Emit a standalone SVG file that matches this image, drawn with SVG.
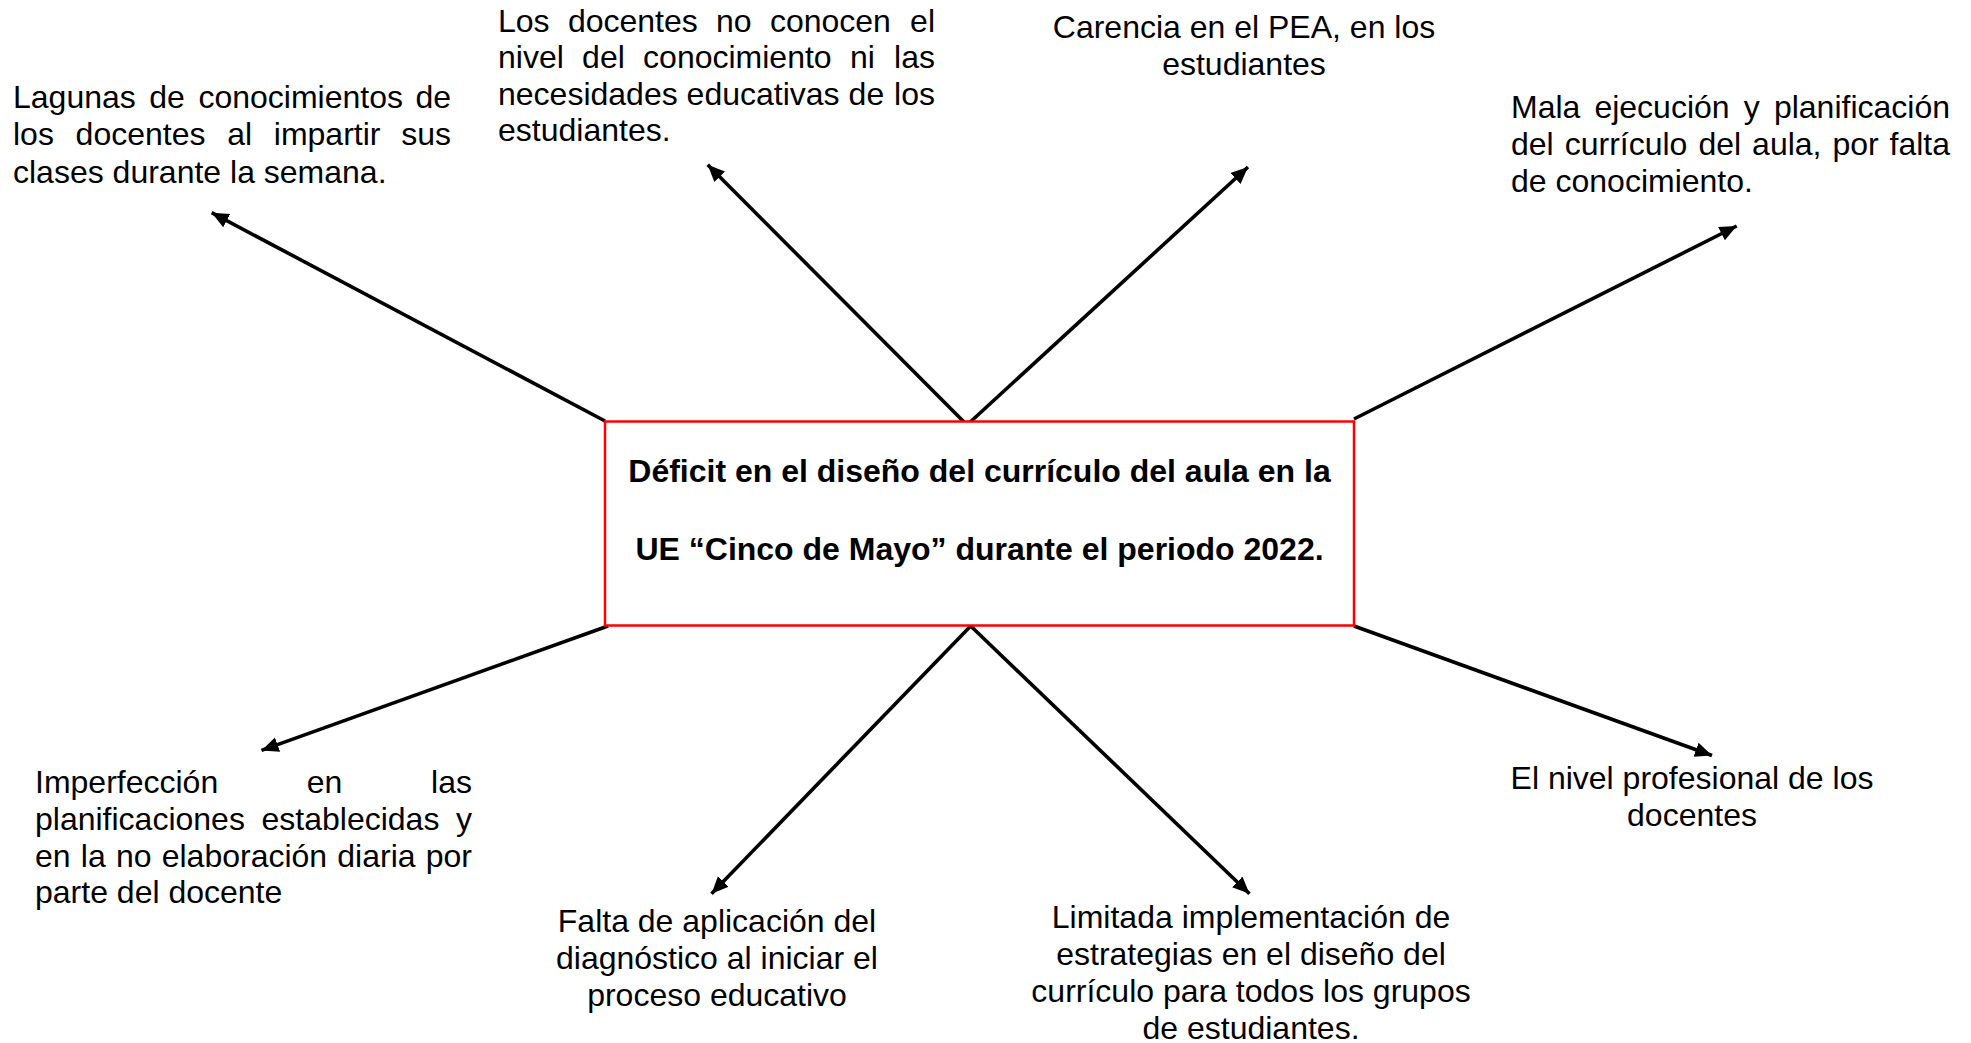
<svg xmlns="http://www.w3.org/2000/svg" width="1971" height="1043" viewBox="0 0 1971 1043">
<style>
  text { font-family: "Liberation Sans", Arial, sans-serif; font-size: 32px; fill: #000; }
  .c { text-anchor: middle; }
  .e { text-anchor: end; }
  .b { font-weight: bold; }
  .conn line { stroke: #000; stroke-width: 3.6; fill: none; marker-end: url(#arr); }
  .box { fill: #fff; stroke: #ff0000; stroke-width: 2.5; }
</style>
<defs>
  <marker id="arr" markerUnits="userSpaceOnUse" markerWidth="18" markerHeight="16" refX="17" refY="7.5" orient="auto">
    <path d="M0,0 L17,7.5 L0,15 z" fill="#000"/>
  </marker>
</defs>
<rect width="1971" height="1043" fill="#fff"/>

<g id="connectors" class="conn">
  <line x1="605" y1="421" x2="211.7" y2="212.7"/>
  <line x1="967" y1="425" x2="707.7" y2="164.7"/>
  <line x1="967" y1="425" x2="1248" y2="167"/>
  <line x1="1354" y1="419" x2="1736.7" y2="226"/>
  <line x1="608" y1="626" x2="261.5" y2="750.4"/>
  <line x1="970.7" y1="626" x2="711.5" y2="893.7"/>
  <line x1="970.7" y1="626" x2="1249.5" y2="893.7"/>
  <line x1="1354" y1="626" x2="1712" y2="755.5"/>
</g>

<g id="center">
  <rect class="box" x="605" y="421.5" width="749" height="204"/>
  <text class="b c" x="979.5" y="482">Déficit en el diseño del currículo del aula en la</text>
  <text class="b c" x="979.5" y="560">UE “Cinco de Mayo” durante el periodo 2022.</text>
</g>

<g id="n-lagunas">
  <text y="107.5"><tspan x="13">Lagunas</tspan><tspan x="149.3">de</tspan><tspan x="198.4">conocimientos</tspan></text>
  <text class="e" x="451" y="107.5">de</text>
  <text y="145"><tspan x="13">los</tspan><tspan x="75.6">docentes</tspan><tspan x="227.2">al</tspan><tspan x="273.8">impartir</tspan></text>
  <text class="e" x="451" y="145">sus</text>
  <text x="13" y="182.5">clases durante la semana.</text>
</g>

<g id="n-docentes">
  <text y="31.5"><tspan x="498">Los</tspan><tspan x="567.9">docentes</tspan><tspan x="716">no</tspan><tspan x="769.9">conocen</tspan></text>
  <text class="e" x="935" y="31.5">el</text>
  <text y="68"><tspan x="498">nivel</tspan><tspan x="582.1">del</tspan><tspan x="643.1">conocimiento</tspan><tspan x="849.9">ni</tspan></text>
  <text class="e" x="935" y="68">las</text>
  <text y="104.5"><tspan x="498">necesidades</tspan><tspan x="686.6">educativas</tspan><tspan x="848.6">de</tspan></text>
  <text class="e" x="935" y="104.5">los</text>
  <text x="498" y="141">estudiantes.</text>
</g>

<g id="n-carencia">
  <text class="c" x="1244" y="37.5">Carencia en el PEA, en los</text>
  <text class="c" x="1244" y="75">estudiantes</text>
</g>

<g id="n-mala">
  <text y="117.5"><tspan x="1511">Mala</tspan><tspan x="1594.4">ejecución</tspan><tspan x="1743.7">y</tspan></text>
  <text class="e" x="1950" y="117.5">planificación</text>
  <text y="154.5"><tspan x="1511">del</tspan><tspan x="1564.7">currículo</tspan><tspan x="1698.4">del</tspan><tspan x="1752.1">aula,</tspan><tspan x="1832.5">por</tspan></text>
  <text class="e" x="1950" y="154.5">falta</text>
  <text x="1511" y="191.5">de conocimiento.</text>
</g>

<g id="n-imperfeccion">
  <text y="793"><tspan x="35">Imperfección</tspan><tspan x="306.8">en</tspan></text>
  <text class="e" x="472" y="793">las</text>
  <text y="829.8"><tspan x="35">planificaciones</tspan><tspan x="261.5">establecidas</tspan></text>
  <text class="e" x="472" y="829.8">y</text>
  <text y="866.6"><tspan x="35">en</tspan><tspan x="80.8">la</tspan><tspan x="115.9">no</tspan><tspan x="161.7">elaboración</tspan><tspan x="337.3">diaria</tspan></text>
  <text class="e" x="472" y="866.6">por</text>
  <text x="35" y="903.4">parte del docente</text>
</g>

<g id="n-falta">
  <text class="c" x="717" y="932">Falta de aplicación del</text>
  <text class="c" x="717" y="969">diagnóstico al iniciar el</text>
  <text class="c" x="717" y="1006">proceso educativo</text>
</g>

<g id="n-limitada">
  <text class="c" x="1251" y="928">Limitada implementación de</text>
  <text class="c" x="1251" y="965">estrategias en el diseño del</text>
  <text class="c" x="1251" y="1002">currículo para todos los grupos</text>
  <text class="c" x="1251" y="1039">de estudiantes.</text>
</g>

<g id="n-nivel">
  <text class="c" x="1692" y="789">El nivel profesional de los</text>
  <text class="c" x="1692" y="826">docentes</text>
</g>
</svg>
